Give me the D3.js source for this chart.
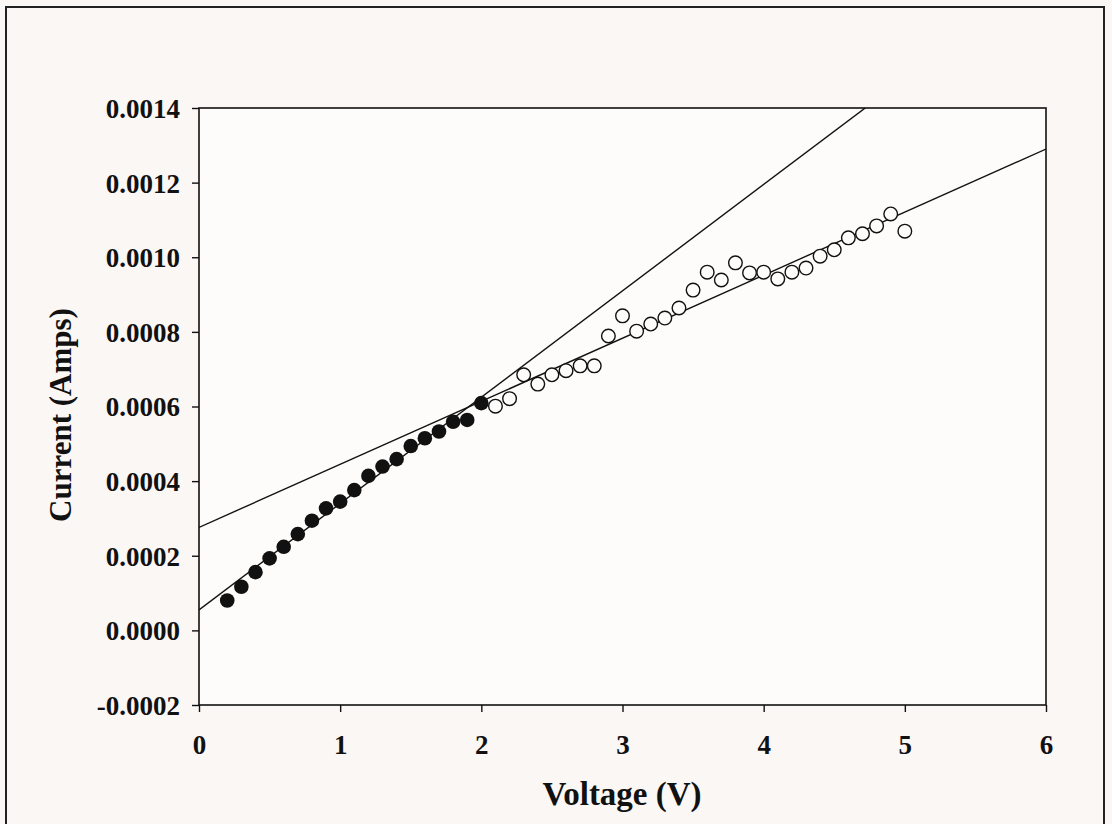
<!DOCTYPE html>
<html>
<head>
<meta charset="utf-8">
<script src="https://cdn.jsdelivr.net/npm/d3@7"></script>
<style>
  html, body { margin: 0; padding: 0; background: #fbf7f5; }
  svg text { font-family: "Liberation Serif", "Times New Roman", serif; font-weight: bold; fill: #111; }
</style>
</head>
<body>
<div id="chart"></div>
<script>
// voltage steps for the two runs
const lowVoltage = [0.2, 0.3, 0.4, 0.5, 0.6, 0.7, 0.8, 0.9, 1.0, 1.1, 1.2, 1.3, 1.4, 1.5, 1.6, 1.7, 1.8, 1.9, 2.0];
const lowCurrent = [0.000080, 0.000117, 0.000156, 0.000193, 0.000224, 0.000258, 0.000294, 0.000327, 0.000345, 0.000376,
  0.000414, 0.000439, 0.000459, 0.000494, 0.000515, 0.000533, 0.000559, 0.000564, 0.000609];

const highVoltage = [2.1, 2.2, 2.3, 2.4, 2.5, 2.6, 2.7, 2.8, 2.9, 3.0, 3.1, 3.2, 3.3, 3.4, 3.5, 3.6, 3.7, 3.8, 3.9, 4.0,
  4.1, 4.2, 4.3, 4.4, 4.5, 4.6, 4.7, 4.8, 4.9, 5.0];
const highCurrent = [0.000601, 0.000621, 0.000685, 0.000660, 0.000685, 0.000696, 0.000709, 0.000709, 0.000789, 0.000843,
  0.000802, 0.000821, 0.000837, 0.000864, 0.000912, 0.000960, 0.000939, 0.000985, 0.000958, 0.000960,
  0.000942, 0.000960, 0.000971, 0.001003, 0.001020, 0.001052, 0.001063, 0.001084, 0.001116, 0.001070];

// fitted trend lines: intercept + slope * V
const fitIntercepts = [0.000055, 0.000276];
const fitSlopes = [0.000285, 0.000169];

const xTicks = [0, 1, 2, 3, 4, 5, 6];
const yTicks = [-0.0002, 0, 0.0002, 0.0004, 0.0006, 0.0008, 0.0010, 0.0012, 0.0014];

const width = 1112, height = 824;
const margin = {left: 199, top: 108, right: 66, bottom: 119};
const plotW = width - margin.left - margin.right;
const plotH = height - margin.top - margin.bottom;

const svg = d3.select('#chart').append('svg')
  .attr('width', width)
  .attr('height', height);

// outer chart frame
svg.append('rect')
  .attr('x', 6).attr('y', 7)
  .attr('width', 1098).attr('height', 830)
  .attr('fill', '#fbf7f5')
  .attr('stroke', '#222')
  .attr('stroke-width', 2);

const x = d3.scaleLinear().domain([0, 6]).range([0, plotW]);
const y = d3.scaleLinear().domain([-0.0002, 0.0014]).range([plotH, 0]);

const g = svg.append('g').attr('transform', `translate(${margin.left},${margin.top})`);

g.append('rect')
  .attr('width', plotW).attr('height', plotH)
  .attr('fill', '#fefcfb');

g.append('clipPath').attr('id', 'plot-clip')
  .append('rect').attr('width', plotW).attr('height', plotH);

// trend lines
const lineGroup = g.append('g').attr('clip-path', 'url(#plot-clip)');
fitSlopes.forEach((slope, i) => {
  lineGroup.append('line')
    .attr('x1', x(0))
    .attr('y1', y(fitIntercepts[i]))
    .attr('x2', x(6))
    .attr('y2', y(fitIntercepts[i] + slope * 6))
    .attr('stroke', '#111')
    .attr('stroke-width', 1.4);
});

// axes
const fmtY = d => d3.format('.4f')(d).replace('\u2212', '-');
const yAxis = g.append('g')
  .call(d3.axisLeft(y).tickValues(yTicks).tickSize(7).tickPadding(6).tickFormat(fmtY));
const xAxis = g.append('g')
  .attr('transform', `translate(0,${plotH})`)
  .call(d3.axisBottom(x).tickValues(xTicks).tickSize(7).tickPadding(23).tickFormat(d3.format('d')));

[xAxis, yAxis].forEach(ax => {
  ax.attr('font-size', null).attr('font-family', null);
  ax.select('.domain').remove();
  ax.selectAll('.tick line').attr('stroke', '#111').attr('stroke-width', 1.4);
  ax.selectAll('.tick text').attr('fill', '#111').style('font-size', '27px');
});
yAxis.selectAll('.tick text')
  .attr('x', -19)
  .attr('dy', '0.35em');

// plot frame
g.append('rect')
  .attr('width', plotW).attr('height', plotH)
  .attr('fill', 'none')
  .attr('stroke', '#111')
  .attr('stroke-width', 1.6);

// points
const lowData = lowVoltage.map((v, i) => ({v, c: lowCurrent[i]}));
const highData = highVoltage.map((v, i) => ({v, c: highCurrent[i]}));

g.append('g').selectAll('circle')
  .data(highData)
  .join('circle')
  .attr('cx', d => x(d.v))
  .attr('cy', d => y(d.c))
  .attr('r', 6.8)
  .attr('fill', '#fefcfb')
  .attr('stroke', '#111')
  .attr('stroke-width', 1.4);

g.append('g').selectAll('circle')
  .data(lowData)
  .join('circle')
  .attr('cx', d => x(d.v))
  .attr('cy', d => y(d.c))
  .attr('r', 7.3)
  .attr('fill', '#111');

// axis titles
svg.append('text')
  .attr('x', 622)
  .attr('y', 805)
  .attr('text-anchor', 'middle')
  .style('font-size', '33px')
  .text('Voltage (V)');

svg.append('text')
  .attr('transform', `translate(71,415) rotate(-90)`)
  .attr('text-anchor', 'middle')
  .style('font-size', '31px')
  .text('Current (Amps)');
</script>
</body>
</html>
